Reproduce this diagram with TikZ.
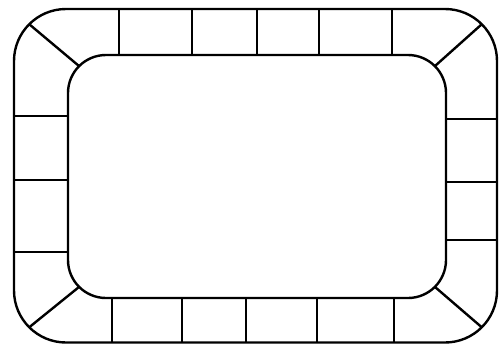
\documentclass[tikz,border=0pt]{standalone}
\begin{document}
\begin{tikzpicture}[x=1pt,y=-1pt,line width=2.4pt,
  divider/.style={draw=black,line width=2.4pt}]
\useasboundingbox (0,0) rectangle (500,343);
% outer and inner tracks
\draw[rounded corners=52pt] (14,9) rectangle (497,342.5);
\draw[rounded corners=38pt] (68,55) rectangle (446,298);
% top dividers
\foreach \x in {119,192,257,319,392}{\path[divider] (\x,9) -- (\x,55);}
% bottom dividers
\foreach \x in {112,182,246,317,394}{\path[divider] (\x,298) -- (\x,342);}
% left dividers
\foreach \y in {116,180,252}{\path[divider] (14,\y) -- (68,\y);}
% right dividers
\foreach \y in {119,182,240}{\path[divider] (446,\y) -- (497,\y);}
% corner diagonals (45 degree points on the arcs)
\path[divider] ({66-36.8},{61-36.8}) -- ({106-26.9},{93-26.9});
\path[divider] ({445+36.8},{61-36.8}) -- ({408+26.9},{93-26.9});
\path[divider] ({66-36.8},{290.5+36.8}) -- ({106-26.9},{260+26.9});
\path[divider] ({445+36.8},{290.5+36.8}) -- ({408+26.9},{260+26.9});
\end{tikzpicture}
\end{document}
